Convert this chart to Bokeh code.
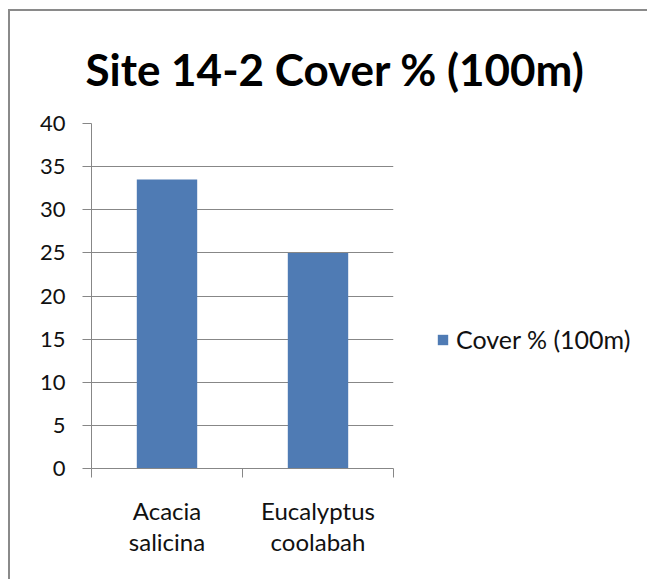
from bokeh.plotting import figure
from bokeh.models import (Range1d, LinearAxis, FixedTicker,
                          Legend, LegendItem, ColumnDataSource, Title)
from bokeh.embed import file_html
from bokeh.resources import INLINE

# ---- data ----
species = ["Acacia salicina", "Eucalyptus coolabah"]
cover = [33.5, 25.0]
y_ticks = [0, 5, 10, 15, 20, 25, 30, 35, 40]
title_text = "Site 14-2 Cover % (100m)"
series_name = "Cover % (100m)"

FONT = "Lato"
GRAY = "#878787"
BLUE = "#4F7BB4"
TXT = "#111111"

n = len(species)
centers = [i + 0.5 for i in range(n)]
edges = list(range(n + 1))
src = ColumnDataSource(dict(x=centers, cover=cover))

p = figure(x_range=Range1d(0, n), y_range=Range1d(0, 40),
           frame_width=302, frame_height=345,
           min_border_left=81, min_border_right=254, min_border_top=112, min_border_bottom=111,
           output_backend="svg", toolbar_location=None, tools="",
           x_axis_location=None, y_axis_location=None)
p.outline_line_color = None
p.background_fill_color = "white"
p.border_fill_color = "white"
p.styles = {"border-top": "2px solid #8a8a8a", "border-left": "2px solid #8a8a8a",
            "margin-left": "8px", "margin-top": "9px"}

yticker = FixedTicker(ticks=y_ticks)
p.xgrid.grid_line_color = None
p.ygrid.ticker = yticker
p.ygrid.grid_line_color = GRAY
p.ygrid.grid_line_width = 1

yaxis = LinearAxis(ticker=yticker)
yaxis.axis_line_color = GRAY
yaxis.major_tick_line_color = GRAY
yaxis.major_tick_out = 9
yaxis.major_tick_in = 0
yaxis.minor_tick_line_color = None
yaxis.major_label_standoff = 17
yaxis.major_label_text_font = FONT
yaxis.major_label_text_font_size = "22px"
yaxis.major_label_text_color = TXT
p.add_layout(yaxis, "left")

# category axis: labels at centers, boundary ticks as minor ticks
xaxis = LinearAxis(ticker=FixedTicker(ticks=centers, minor_ticks=edges))
xaxis.axis_line_color = GRAY
xaxis.major_tick_line_color = None
xaxis.major_tick_out = 0
xaxis.major_tick_in = 0
xaxis.minor_tick_line_color = GRAY
xaxis.minor_tick_out = 9
xaxis.minor_tick_in = 0
xaxis.major_label_standoff = 18
xaxis.major_label_text_font = FONT
xaxis.major_label_text_font_size = "24px"
xaxis.major_label_text_color = TXT
xaxis.major_label_text_line_height = 1.08
xaxis.major_label_overrides = {c: s.replace(" ", "\n") for c, s in zip(centers, species)}
p.add_layout(xaxis, "below")

r = p.vbar(x="x", top="cover", width=0.4, source=src, fill_color=BLUE, line_color=None)

legend = Legend(items=[LegendItem(label=series_name, renderers=[r])], location=(43, 114))
legend.padding = 0
legend.margin = 0
legend.border_line_color = None
legend.background_fill_alpha = 0
legend.glyph_width = 13
legend.glyph_height = 13
legend.label_standoff = 7
legend.label_text_font = FONT
legend.label_text_font_size = "25px"
legend.label_text_color = TXT
legend.label_height = 20
p.add_layout(legend, "right")

p.title = Title(text=title_text, align="left", offset=-6, standoff=57,
                text_font=FONT, text_font_style="bold", text_font_size="44px",
                text_color="#000000")

open("out.html", "w").write(file_html(p, INLINE))
